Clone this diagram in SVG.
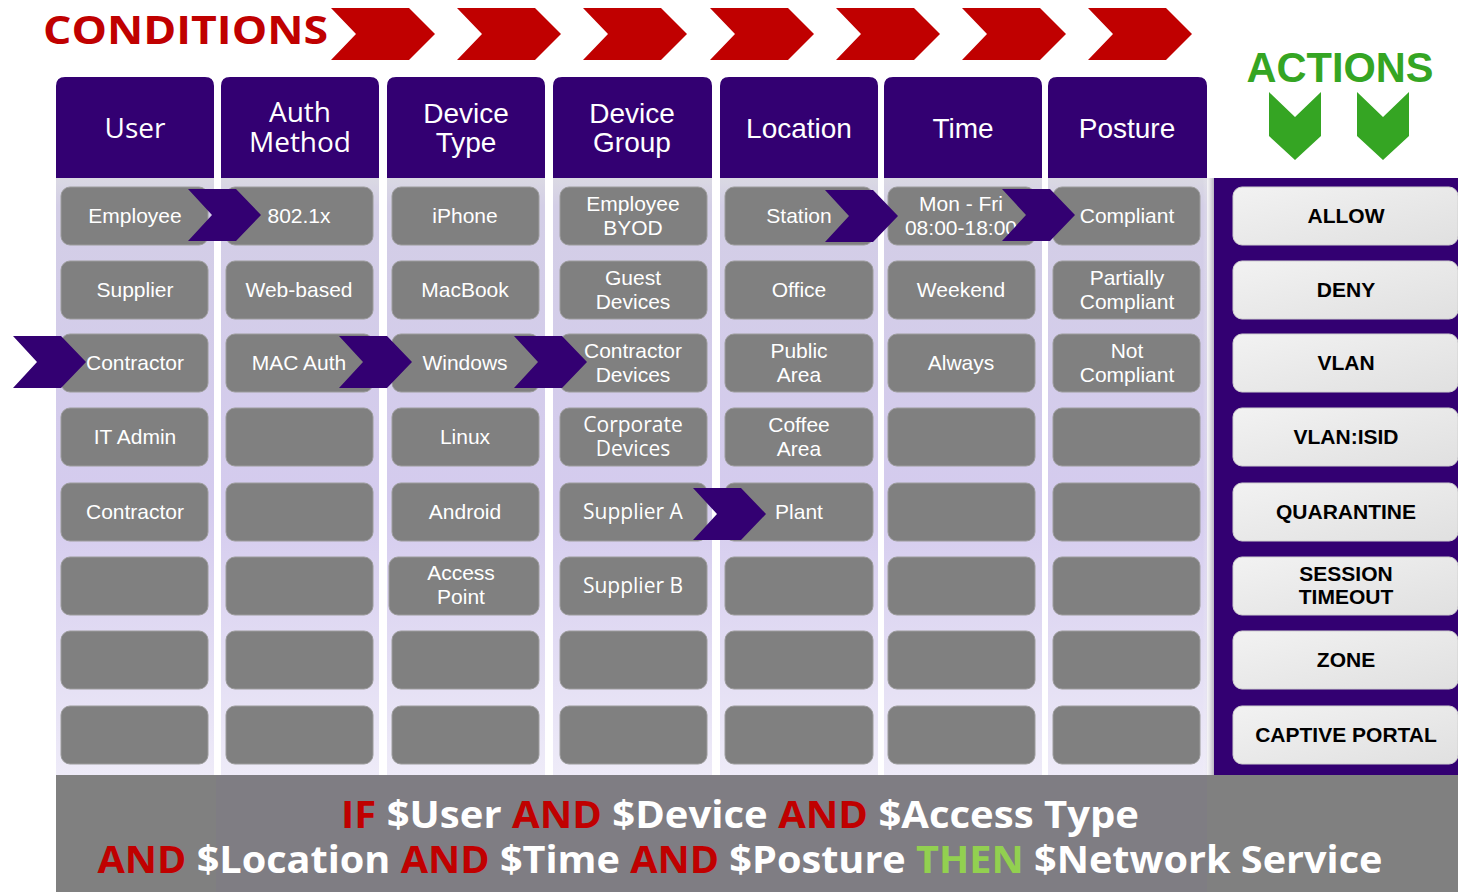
<svg xmlns="http://www.w3.org/2000/svg" width="1458" height="892" viewBox="0 0 1458 892">
<defs>
<linearGradient id="colbg" x1="0" y1="0" x2="0" y2="1">
<stop offset="0" stop-color="#dcdce2"/>
<stop offset="0.06" stop-color="#d3cee6"/>
<stop offset="0.55" stop-color="#d4cbee"/>
<stop offset="1" stop-color="#eeebf8"/>
</linearGradient>
<linearGradient id="btn" x1="0" y1="0" x2="1" y2="1">
<stop offset="0" stop-color="#f2f2f2"/>
<stop offset="1" stop-color="#e0e0e0"/>
</linearGradient>
<linearGradient id="shadow" x1="0" y1="0" x2="1" y2="0">
<stop offset="0" stop-color="#ffffff" stop-opacity="0"/>
<stop offset="1" stop-color="#a9a6b4"/>
</linearGradient>
<style>
.hdr{fill:#330072}
.col{fill:url(#colbg)}
.cell{fill:#808080;stroke:#9c9c9c;stroke-width:1}
.ct{font-family:"Liberation Sans",Arial,sans-serif;font-size:21px;fill:#ffffff;text-anchor:middle}
.ctm{font-family:"Open Sans","Liberation Sans",sans-serif;font-size:21px;fill:#ffffff;text-anchor:middle}
.ht{font-family:"Liberation Sans",Arial,sans-serif;font-size:28px;fill:#ffffff;text-anchor:middle}
.htm{font-family:"Open Sans","Liberation Sans",sans-serif;font-size:28px;fill:#ffffff;text-anchor:middle}
.arr{fill:#330072}
.red{fill:#c00000}
.grn{fill:#35a523}
.btn{fill:url(#btn);stroke:#d0d0d0;stroke-width:1}
.at{font-family:"Liberation Sans",Arial,sans-serif;font-size:21px;font-weight:bold;fill:#000000;text-anchor:middle}
.bt{font-family:"Open Sans","Liberation Sans",sans-serif;font-size:37px;font-weight:bold;fill:#ffffff}
.bt .k{fill:#c00000}
.bt .g{fill:#92d050}
</style>
</defs>
<rect x="0" y="0" width="1458" height="892" fill="#ffffff"/>

<!-- Title chevrons -->
<g id="conditions-title">
<text x="43" y="44" font-family="'Open Sans','Liberation Sans',sans-serif" font-size="40" font-weight="bold" fill="#c00000" textLength="285" lengthAdjust="spacingAndGlyphs">CONDITIONS</text>
<polygon class="red" points="331,8 409,8 435,34 409,60 331,60 356,34"/>
<polygon class="red" points="457,8 535,8 561,34 535,60 457,60 482,34"/>
<polygon class="red" points="583,8 661,8 687,34 661,60 583,60 608,34"/>
<polygon class="red" points="710,8 788,8 814,34 788,60 710,60 735,34"/>
<polygon class="red" points="836,8 914,8 940,34 914,60 836,60 861,34"/>
<polygon class="red" points="962,8 1040,8 1066,34 1040,60 962,60 987,34"/>
<polygon class="red" points="1088,8 1166,8 1192,34 1166,60 1088,60 1113,34"/>
</g>
<g id="actions-title">
<text x="1340" y="82" font-family="'Liberation Sans',Arial,sans-serif" font-size="42" font-weight="bold" fill="#35a523" text-anchor="middle" textLength="187" lengthAdjust="spacingAndGlyphs">ACTIONS</text>
<polygon class="grn" points="1269,92 1295,117 1321,92 1321,136 1295,160 1269,136"/>
<polygon class="grn" points="1357,92 1383,117 1409,92 1409,136 1383,160 1357,136"/>
</g>

<!-- Column backgrounds -->
<g id="column-backgrounds">
<rect class="col" x="56" y="170" width="158" height="605"/>
<rect class="col" x="221" y="170" width="158" height="605"/>
<rect class="col" x="387" y="170" width="158" height="605"/>
<rect class="col" x="553" y="170" width="159" height="605"/>
<rect class="col" x="720" y="170" width="158" height="605"/>
<rect class="col" x="884" y="170" width="158" height="605"/>
<rect class="col" x="1048" y="170" width="159" height="605"/>
</g>

<!-- Headers -->
<g id="hdr-user"><path class="hdr" d="M56,178 V86 Q56,77 65,77 H205 Q214,77 214,86 V178 Z"/><text class="htm" x="135" y="138">User</text></g>
<g id="hdr-auth"><path class="hdr" d="M221,178 V86 Q221,77 230,77 H370 Q379,77 379,86 V178 Z"/><text class="htm" x="300" y="122">Auth</text><text class="htm" x="300" y="152">Method</text></g>
<g id="hdr-devtype"><path class="hdr" d="M387,178 V86 Q387,77 396,77 H536 Q545,77 545,86 V178 Z"/><text class="ht" x="466" y="123">Device</text><text class="ht" x="466" y="152">Type</text></g>
<g id="hdr-devgroup"><path class="hdr" d="M553,178 V86 Q553,77 562,77 H703 Q712,77 712,86 V178 Z"/><text class="ht" x="632" y="123">Device</text><text class="ht" x="632" y="152">Group</text></g>
<g id="hdr-location"><path class="hdr" d="M720,178 V86 Q720,77 729,77 H869 Q878,77 878,86 V178 Z"/><text class="ht" x="799" y="138">Location</text></g>
<g id="hdr-time"><path class="hdr" d="M884,178 V86 Q884,77 893,77 H1033 Q1042,77 1042,86 V178 Z"/><text class="ht" x="963" y="138">Time</text></g>
<g id="hdr-posture"><path class="hdr" d="M1048,178 V86 Q1048,77 1057,77 H1198 Q1207,77 1207,86 V178 Z"/><text class="ht" x="1127" y="138">Posture</text></g>

<!-- User column cells -->
<g id="user-employee"><rect class="cell" x="61" y="187" width="147" height="58" rx="9"/><text class="ct" x="135" y="223">Employee</text></g>
<g id="user-supplier"><rect class="cell" x="61" y="261" width="147" height="58" rx="9"/><text class="ct" x="135" y="297">Supplier</text></g>
<g id="user-contractor"><rect class="cell" x="61" y="334" width="147" height="58" rx="9"/><text class="ct" x="135" y="370">Contractor</text></g>
<g id="user-itadmin"><rect class="cell" x="61" y="408" width="147" height="58" rx="9"/><text class="ct" x="135" y="444">IT Admin</text></g>
<g id="user-contractor2"><rect class="cell" x="61" y="483" width="147" height="58" rx="9"/><text class="ct" x="135" y="519">Contractor</text></g>
<g id="user-e6"><rect class="cell" x="61" y="557" width="147" height="58" rx="9"/></g>
<g id="user-e7"><rect class="cell" x="61" y="631" width="147" height="58" rx="9"/></g>
<g id="user-e8"><rect class="cell" x="61" y="706" width="147" height="58" rx="9"/></g>

<!-- Auth column cells -->
<g id="auth-8021x"><rect class="cell" x="226" y="187" width="147" height="58" rx="9"/><text class="ct" x="299" y="223">802.1x</text></g>
<g id="auth-web"><rect class="cell" x="226" y="261" width="147" height="58" rx="9"/><text class="ct" x="299" y="297">Web-based</text></g>
<g id="auth-mac"><rect class="cell" x="226" y="334" width="147" height="58" rx="9"/><text class="ct" x="299" y="370">MAC Auth</text></g>
<g id="auth-e4"><rect class="cell" x="226" y="408" width="147" height="58" rx="9"/></g>
<g id="auth-e5"><rect class="cell" x="226" y="483" width="147" height="58" rx="9"/></g>
<g id="auth-e6"><rect class="cell" x="226" y="557" width="147" height="58" rx="9"/></g>
<g id="auth-e7"><rect class="cell" x="226" y="631" width="147" height="58" rx="9"/></g>
<g id="auth-e8"><rect class="cell" x="226" y="706" width="147" height="58" rx="9"/></g>

<!-- Device type cells -->
<g id="dt-iphone"><rect class="cell" x="392" y="187" width="147" height="58" rx="9"/><text class="ct" x="465" y="223">iPhone</text></g>
<g id="dt-macbook"><rect class="cell" x="392" y="261" width="147" height="58" rx="9"/><text class="ct" x="465" y="297">MacBook</text></g>
<g id="dt-windows"><rect class="cell" x="392" y="334" width="147" height="58" rx="9"/><text class="ct" x="465" y="370">Windows</text></g>
<g id="dt-linux"><rect class="cell" x="392" y="408" width="147" height="58" rx="9"/><text class="ct" x="465" y="444">Linux</text></g>
<g id="dt-android"><rect class="cell" x="392" y="483" width="147" height="58" rx="9"/><text class="ct" x="465" y="519">Android</text></g>
<g id="dt-ap"><rect class="cell" x="389" y="557" width="150" height="58" rx="9"/><text class="ct" x="461" y="580">Access</text><text class="ct" x="461" y="604">Point</text></g>
<g id="dt-e7"><rect class="cell" x="392" y="631" width="147" height="58" rx="9"/></g>
<g id="dt-e8"><rect class="cell" x="392" y="706" width="147" height="58" rx="9"/></g>

<!-- Device group cells -->
<g id="dg-byod"><rect class="cell" x="560" y="187" width="147" height="58" rx="9"/><text class="ct" x="633" y="211">Employee</text><text class="ct" x="633" y="235">BYOD</text></g>
<g id="dg-guest"><rect class="cell" x="560" y="261" width="147" height="58" rx="9"/><text class="ct" x="633" y="285">Guest</text><text class="ct" x="633" y="309">Devices</text></g>
<g id="dg-contractor"><rect class="cell" x="560" y="334" width="147" height="58" rx="9"/><text class="ct" x="633" y="358">Contractor</text><text class="ct" x="633" y="382">Devices</text></g>
<g id="dg-corporate"><rect class="cell" x="560" y="408" width="147" height="58" rx="9"/><text class="ctm" x="633" y="432">Corporate</text><text class="ctm" x="633" y="456">Devices</text></g>
<g id="dg-suppliera"><rect class="cell" x="560" y="483" width="147" height="58" rx="9"/><text class="ctm" x="633" y="519">Supplier A</text></g>
<g id="dg-supplierb"><rect class="cell" x="560" y="557" width="147" height="58" rx="9"/><text class="ctm" x="633" y="593">Supplier B</text></g>
<g id="dg-e7"><rect class="cell" x="560" y="631" width="147" height="58" rx="9"/></g>
<g id="dg-e8"><rect class="cell" x="560" y="706" width="147" height="58" rx="9"/></g>

<!-- Location cells -->
<g id="loc-station"><rect class="cell" x="725" y="187" width="148" height="58" rx="9"/><text class="ct" x="799" y="223">Station</text></g>
<g id="loc-office"><rect class="cell" x="725" y="261" width="148" height="58" rx="9"/><text class="ct" x="799" y="297">Office</text></g>
<g id="loc-public"><rect class="cell" x="725" y="334" width="148" height="58" rx="9"/><text class="ct" x="799" y="358">Public</text><text class="ct" x="799" y="382">Area</text></g>
<g id="loc-coffee"><rect class="cell" x="725" y="408" width="148" height="58" rx="9"/><text class="ct" x="799" y="432">Coffee</text><text class="ct" x="799" y="456">Area</text></g>
<g id="loc-plant"><rect class="cell" x="725" y="483" width="148" height="58" rx="9"/><text class="ct" x="799" y="519">Plant</text></g>
<g id="loc-e6"><rect class="cell" x="725" y="557" width="148" height="58" rx="9"/></g>
<g id="loc-e7"><rect class="cell" x="725" y="631" width="148" height="58" rx="9"/></g>
<g id="loc-e8"><rect class="cell" x="725" y="706" width="148" height="58" rx="9"/></g>

<!-- Time cells -->
<g id="time-weekday"><rect class="cell" x="888" y="187" width="147" height="58" rx="9"/><text class="ct" x="961" y="211">Mon - Fri</text><text class="ct" x="961" y="235">08:00-18:00</text></g>
<g id="time-weekend"><rect class="cell" x="888" y="261" width="147" height="58" rx="9"/><text class="ct" x="961" y="297">Weekend</text></g>
<g id="time-always"><rect class="cell" x="888" y="334" width="147" height="58" rx="9"/><text class="ct" x="961" y="370">Always</text></g>
<g id="time-e4"><rect class="cell" x="888" y="408" width="147" height="58" rx="9"/></g>
<g id="time-e5"><rect class="cell" x="888" y="483" width="147" height="58" rx="9"/></g>
<g id="time-e6"><rect class="cell" x="888" y="557" width="147" height="58" rx="9"/></g>
<g id="time-e7"><rect class="cell" x="888" y="631" width="147" height="58" rx="9"/></g>
<g id="time-e8"><rect class="cell" x="888" y="706" width="147" height="58" rx="9"/></g>

<!-- Posture cells -->
<g id="pos-compliant"><rect class="cell" x="1053" y="187" width="147" height="58" rx="9"/><text class="ct" x="1127" y="223">Compliant</text></g>
<g id="pos-partial"><rect class="cell" x="1053" y="261" width="147" height="58" rx="9"/><text class="ct" x="1127" y="285">Partially</text><text class="ct" x="1127" y="309">Compliant</text></g>
<g id="pos-not"><rect class="cell" x="1053" y="334" width="147" height="58" rx="9"/><text class="ct" x="1127" y="358">Not</text><text class="ct" x="1127" y="382">Compliant</text></g>
<g id="pos-e4"><rect class="cell" x="1053" y="408" width="147" height="58" rx="9"/></g>
<g id="pos-e5"><rect class="cell" x="1053" y="483" width="147" height="58" rx="9"/></g>
<g id="pos-e6"><rect class="cell" x="1053" y="557" width="147" height="58" rx="9"/></g>
<g id="pos-e7"><rect class="cell" x="1053" y="631" width="147" height="58" rx="9"/></g>
<g id="pos-e8"><rect class="cell" x="1053" y="706" width="147" height="58" rx="9"/></g>

<!-- Actions panel -->
<g id="actions-panel">
<rect x="1203" y="178" width="12" height="597" fill="url(#shadow)"/>
<rect x="1214" y="178" width="244" height="597" fill="#330072"/>
</g>
<g id="act-allow"><rect class="btn" x="1233" y="187" width="225" height="58" rx="9"/><text class="at" x="1346" y="223">ALLOW</text></g>
<g id="act-deny"><rect class="btn" x="1233" y="261" width="225" height="58" rx="9"/><text class="at" x="1346" y="297">DENY</text></g>
<g id="act-vlan"><rect class="btn" x="1233" y="334" width="225" height="58" rx="9"/><text class="at" x="1346" y="370">VLAN</text></g>
<g id="act-vlanisid"><rect class="btn" x="1233" y="408" width="225" height="58" rx="9"/><text class="at" x="1346" y="444">VLAN:ISID</text></g>
<g id="act-quarantine"><rect class="btn" x="1233" y="483" width="225" height="58" rx="9"/><text class="at" x="1346" y="519">QUARANTINE</text></g>
<g id="act-session"><rect class="btn" x="1233" y="557" width="225" height="58" rx="9"/><text class="at" x="1346" y="581">SESSION</text><text class="at" x="1346" y="604">TIMEOUT</text></g>
<g id="act-zone"><rect class="btn" x="1233" y="631" width="225" height="58" rx="9"/><text class="at" x="1346" y="667">ZONE</text></g>
<g id="act-captive"><rect class="btn" x="1233" y="706" width="225" height="58" rx="9"/><text class="at" x="1346" y="742">CAPTIVE PORTAL</text></g>

<!-- Connectors (purple chevrons) -->
<g id="connectors">
<polygon class="arr" points="188,189 236,189 261,215 236,241 188,241 212,215"/>
<polygon class="arr" points="13,336 61,336 86,362 61,388 13,388 37,362"/>
<polygon class="arr" points="339,336 387,336 412,362 387,388 339,388 363,362"/>
<polygon class="arr" points="514,336 562,336 587,362 562,388 514,388 538,362"/>
<polygon class="arr" points="825,190 873,190 898,216 873,242 825,242 849,216"/>
<polygon class="arr" points="1002,189 1050,189 1075,215 1050,241 1002,241 1026,215"/>
<polygon class="arr" points="693,488 741,488 766,514 741,540 693,540 717,514"/>
</g>

<!-- Bottom rule band -->
<g id="rule-band">
<rect x="56" y="775" width="1402" height="117" fill="#808080"/>
<rect x="216" y="775" width="991" height="117" fill="#7a758c" opacity="0.25"/>
<text class="bt" x="740" y="828" text-anchor="middle" textLength="798" lengthAdjust="spacingAndGlyphs"><tspan class="k">IF</tspan> $User <tspan class="k">AND</tspan> $Device <tspan class="k">AND</tspan> $Access Type</text>
<text class="bt" x="740" y="873" text-anchor="middle" textLength="1285" lengthAdjust="spacingAndGlyphs"><tspan class="k">AND</tspan> $Location <tspan class="k">AND</tspan> $Time <tspan class="k">AND</tspan> $Posture <tspan class="g">THEN</tspan> $Network Service</text>
</g>
</svg>
